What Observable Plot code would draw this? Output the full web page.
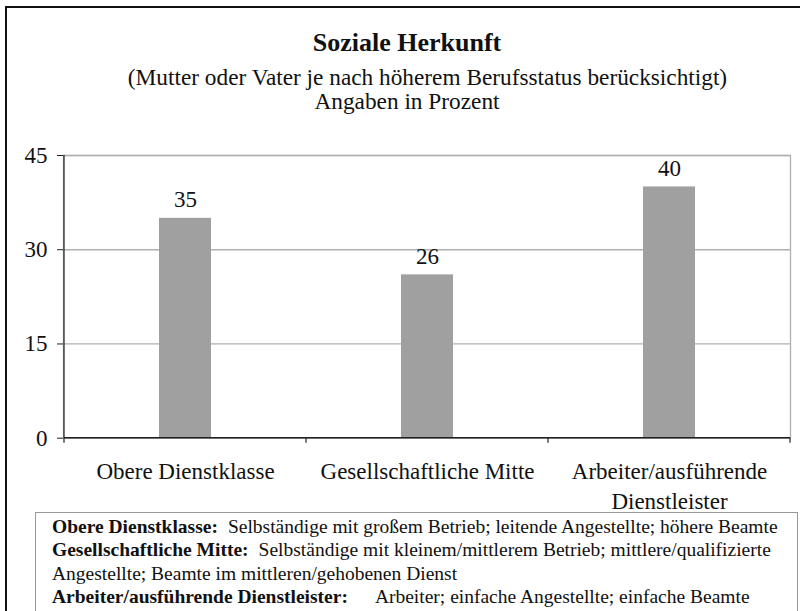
<!DOCTYPE html>
<html><head><meta charset="utf-8">
<script src="https://cdn.jsdelivr.net/npm/d3@7"></script>
<script src="https://cdn.jsdelivr.net/npm/@observablehq/plot@0.6"></script>
<style>
html,body{margin:0;padding:0;background:#fff;}
body{width:800px;height:611px;overflow:hidden;position:relative;font-family:"Liberation Serif",serif;color:#111;}
#frame{position:absolute;left:5px;top:6px;width:900px;height:900px;border:2px solid #111;pointer-events:none;box-sizing:border-box}
#head{position:relative;height:120px}
.h{position:absolute;left:0;text-align:center;line-height:1;white-space:nowrap}
#chart{height:398px}
#legend{position:absolute;left:35px;top:512px;width:763px;height:120px;border:1px solid #999;box-sizing:border-box;padding:2px 0 0 16px;font-size:19.5px;line-height:23.3px;white-space:nowrap}
#legend b{font-weight:bold}
</style></head><body>
<div id="frame"></div>
<div id="head">
  <div class="h" id="title" style="top:30px;width:814px;font-weight:bold;font-size:26px"></div>
  <div class="h" id="sub1" style="top:66px;width:855px;font-size:23.3px"></div>
  <div class="h" id="sub2" style="top:90px;width:814px;font-size:23.3px"></div>
</div>
<div id="chart"></div>
<div id="legend"></div>
<script>
// ---- data ----
const categories = ["Obere Dienstklasse", "Gesellschaftliche Mitte", "Arbeiter/ausführende Dienstleister"];
const values = [35, 26, 40];
const yTicks = [0, 15, 30, 45];
const titleText = "Soziale Herkunft";
const subtitleText = "(Mutter oder Vater je nach höherem Berufsstatus berücksichtigt)";
const subtitle2Text = "Angaben in Prozent";
const legendTerms = ["Obere Dienstklasse:", "Gesellschaftliche Mitte:", "Arbeiter/ausführende Dienstleister:"];
const legendLines = [
  ["Selbständige mit großem Betrieb; leitende Angestellte; höhere Beamte"],
  ["Selbständige mit kleinem/mittlerem Betrieb; mittlere/qualifizierte", "Angestellte; Beamte im mittleren/gehobenen Dienst"],
  ["Arbeiter; einfache Angestellte; einfache Beamte"]
];

// ---- header ----
document.getElementById("title").textContent = titleText;
document.getElementById("sub1").textContent = subtitleText;
document.getElementById("sub2").textContent = subtitle2Text;

// ---- legend ----
const leg = document.getElementById("legend");
const gaps = [10, 10, 27];
legendTerms.forEach((t, i) => {
  const row = document.createElement("div");
  const b = document.createElement("b");
  b.textContent = t;
  const s = document.createElement("span");
  s.style.marginLeft = gaps[i] + "px";
  s.textContent = legendLines[i][0];
  row.append(b, s);
  leg.append(row);
  for (let k = 1; k < legendLines[i].length; k++) {
    const r2 = document.createElement("div");
    r2.textContent = legendLines[i][k];
    leg.append(r2);
  }
});

// ---- chart ----
const data = categories.map((c, i) => ({category: c, value: values[i]}));

function axesLines(index, scales, vals, dims) {
  const x = scales.x, y = scales.y;
  const bw = typeof x.bandwidth === "function" ? x.bandwidth() : (scales.scales && scales.scales.x.bandwidth);
  const y0 = y(0), yTop = y(d3.max(yTicks));
  const g = d3.create("svg:g").attr("stroke", "#222").attr("fill", "none");
  const left = x(categories[0]);
  const right = x(categories[categories.length - 1]) + bw;
  const bounds = categories.map(c => x(c)).concat([right]);
  g.selectAll("line.t").data(bounds).join("line")
    .attr("x1", d => d).attr("x2", d => d).attr("y1", y0).attr("y2", y0 + 5).attr("stroke-width", 1.2);
  g.append("line").attr("x1", left).attr("x2", right).attr("y1", y0).attr("y2", y0).attr("stroke-width", 1.6);
  g.append("line").attr("x1", left).attr("x2", left).attr("y1", yTop).attr("y2", y0).attr("stroke-width", 1.2);
  return g.node();
}

const chart = Plot.plot({
  width: 800,
  height: 398,
  marginTop: 35,
  marginLeft: 63,
  marginRight: 10,
  marginBottom: 80.3,
  style: {fontFamily: "Liberation Serif, serif", color: "#111", background: "transparent"},
  x: {domain: categories, padding: 0, label: null},
  y: {domain: [0, 45], label: null},
  marks: [
    Plot.frame({stroke: "#b0b0b0", strokeWidth: 1.3}),
    Plot.ruleY(yTicks.filter(t => t > 0), {stroke: "#b0b0b0", strokeWidth: 1.3}),
    Plot.barY(data, {x: "category", y: "value", fill: "#a0a0a0", insetLeft: 95, insetRight: 95}),
    Plot.text(data, {x: "category", y: "value", text: d => String(d.value), lineAnchor: "bottom", dy: -11, fontSize: 23, fill: "#111"}),
    Plot.axisY({ticks: yTicks, tickSize: 6, tickPadding: 10, fontSize: 23, stroke: "#222", fill: "#111", label: null}),
    Plot.axisX({tickSize: 0, tickPadding: 20, fontSize: 23, fill: "#111", label: null, lineHeight: 1.3,
      tickFormat: d => d.replace("ausführende ", "ausführende\n")}),
    axesLines
  ]
});
document.getElementById("chart").append(chart);
</script>
</body></html>
